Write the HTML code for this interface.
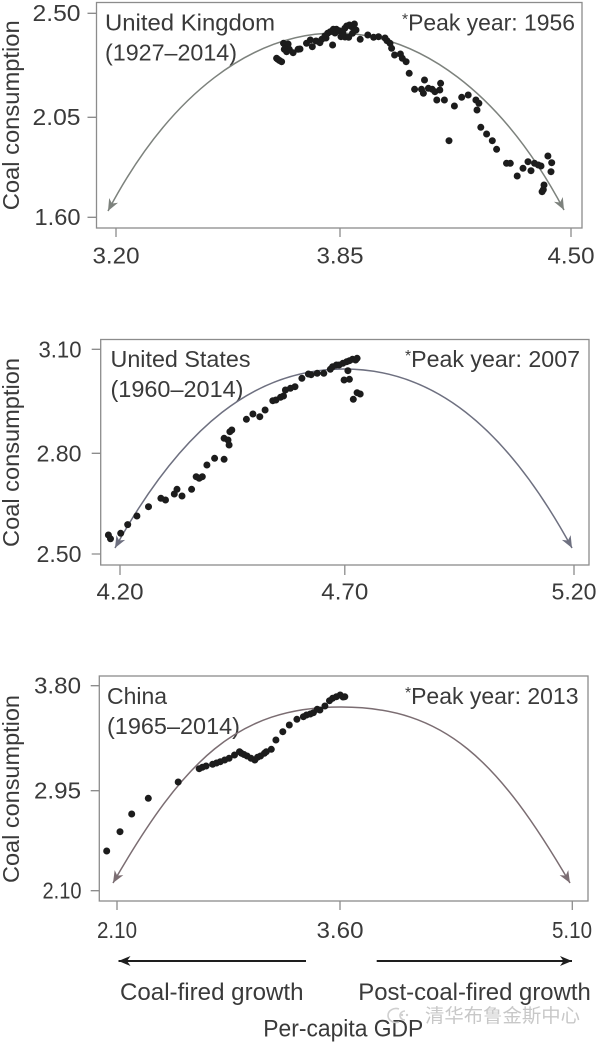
<!DOCTYPE html>
<html>
<head>
<meta charset="utf-8">
<style>
  html, body { margin: 0; padding: 0; background: #ffffff; }
  svg { display: block; }
  text { font-family: "Liberation Sans", "Noto Sans CJK SC", sans-serif; fill: #3a3a3a; }
</style>
</head>
<body>
<svg width="600" height="1044" viewBox="0 0 600 1044" xmlns="http://www.w3.org/2000/svg">
  <defs>
    <marker id="mUK" viewBox="-13 -7 14 14" refX="0" refY="0" markerWidth="14" markerHeight="14" markerUnits="userSpaceOnUse" orient="auto" overflow="visible">
      <path d="M0,0 L-12,-5 L-8.5,0 L-12,5 Z" fill="#7d827d"/>
    </marker>
    <marker id="mUS" viewBox="-13 -7 14 14" refX="0" refY="0" markerWidth="14" markerHeight="14" markerUnits="userSpaceOnUse" orient="auto" overflow="visible">
      <path d="M0,0 L-12,-5 L-8.5,0 L-12,5 Z" fill="#6e7080"/>
    </marker>
    <marker id="mCN" viewBox="-13 -7 14 14" refX="0" refY="0" markerWidth="14" markerHeight="14" markerUnits="userSpaceOnUse" orient="auto" overflow="visible">
      <path d="M0,0 L-12,-5 L-8.5,0 L-12,5 Z" fill="#7b6d72"/>
    </marker>
    <marker id="mBK" viewBox="-13 -7 14 14" refX="0" refY="0" markerWidth="14" markerHeight="14" markerUnits="userSpaceOnUse" orient="auto" overflow="visible">
      <path d="M0,0 L-12,-5 L-8.5,0 L-12,5 Z" fill="#1e1e1e"/>
    </marker>
  </defs>

  <rect x="0" y="0" width="600" height="1044" fill="#ffffff"/>

  <!-- ================= UK PANEL ================= -->
  <rect x="96.5" y="2.5" width="485.5" height="225.5" fill="none" stroke="#8c8c8c" stroke-width="1.3"/>
  <path d="M87.5 13.3H96.5 M87.5 117.3H96.5 M87.5 217.3H96.5 M116 228V237 M340 228V237 M571 228V237" stroke="#8c8c8c" stroke-width="1.3" fill="none"/>
  <g font-size="23">
    <text x="80.5" y="21" text-anchor="end" textLength="48" lengthAdjust="spacingAndGlyphs">2.50</text>
    <text x="80.5" y="125" text-anchor="end" textLength="48" lengthAdjust="spacingAndGlyphs">2.05</text>
    <text x="80.5" y="225" text-anchor="end" textLength="46" lengthAdjust="spacingAndGlyphs">1.60</text>
    <text x="116" y="263.5" text-anchor="middle" textLength="47" lengthAdjust="spacingAndGlyphs">3.20</text>
    <text x="340" y="263.5" text-anchor="middle" textLength="47" lengthAdjust="spacingAndGlyphs">3.85</text>
    <text x="571" y="263.5" text-anchor="middle" textLength="47" lengthAdjust="spacingAndGlyphs">4.50</text>
  </g>
  <text transform="translate(19,115.3) rotate(-90)" font-size="23" text-anchor="middle" textLength="190" lengthAdjust="spacingAndGlyphs">Coal consumption</text>
  <g font-size="23.5">
    <text x="105" y="30.7" textLength="170" lengthAdjust="spacingAndGlyphs">United Kingdom</text>
    <text x="105" y="60.7" textLength="132" lengthAdjust="spacingAndGlyphs">(1927–2014)</text>
    <text x="402" y="30.7" textLength="173" lengthAdjust="spacingAndGlyphs"><tspan font-size="16" dy="-6">*</tspan><tspan dy="6">Peak year: 1956</tspan></text>
  </g>
  <path d="M336,33 C418.75,32.85 501.5,91.9 564,210" fill="none" stroke="#7d827d" stroke-width="1.5" marker-end="url(#mUK)"/>
  <path d="M336,33 C253.25,33.1 170.5,92.4 108,211" fill="none" stroke="#7d827d" stroke-width="1.5" marker-end="url(#mUK)"/>
  <g fill="#1c1c1c">
    <circle cx="277.8" cy="59.3" r="3.5"/><circle cx="281.6" cy="61.7" r="3.5"/><circle cx="276.6" cy="58.3" r="3.5"/><circle cx="279.5" cy="60.5" r="3.5"/>
    <circle cx="283.5" cy="43.3" r="3.5"/><circle cx="288.1" cy="44" r="3.5"/><circle cx="284.3" cy="49.3" r="3.5"/><circle cx="289.3" cy="49.3" r="3.5"/>
    <circle cx="286.6" cy="51.7" r="3.5"/><circle cx="293.1" cy="52.7" r="3.5"/><circle cx="298.1" cy="49.3" r="3.5"/><circle cx="300" cy="49" r="3.5"/>
    <circle cx="306.5" cy="43.3" r="3.5"/><circle cx="310.3" cy="40" r="3.5"/><circle cx="312.3" cy="46.7" r="3.5"/><circle cx="316" cy="41" r="3.5"/>
    <circle cx="319.9" cy="42.7" r="3.5"/><circle cx="321.8" cy="39.3" r="3.5"/><circle cx="324.9" cy="36" r="3.5"/><circle cx="326" cy="38" r="3.5"/>
    <circle cx="327.6" cy="33.3" r="3.5"/><circle cx="330.3" cy="31.7" r="3.5"/><circle cx="333.3" cy="29.3" r="3.5"/><circle cx="335" cy="33" r="3.5"/>
    <circle cx="336.4" cy="29.3" r="3.5"/><circle cx="339.1" cy="30.7" r="3.5"/><circle cx="332.6" cy="45" r="3.5"/><circle cx="341" cy="36.7" r="3.5"/>
    <circle cx="342.9" cy="33.3" r="3.5"/><circle cx="344.8" cy="28.3" r="3.5"/><circle cx="345" cy="37" r="3.5"/><circle cx="346.7" cy="26" r="3.5"/>
    <circle cx="349.4" cy="25" r="3.5"/><circle cx="351.7" cy="26.7" r="3.5"/><circle cx="354.4" cy="24" r="3.5"/><circle cx="356" cy="30" r="3.5"/>
    <circle cx="352.5" cy="33.3" r="3.5"/><circle cx="348.7" cy="37.3" r="3.5"/><circle cx="360.2" cy="39.3" r="3.5"/><circle cx="367.8" cy="35" r="3.5"/>
    <circle cx="373.6" cy="37.3" r="3.5"/><circle cx="378.5" cy="36.7" r="3.5"/><circle cx="385" cy="38" r="3.5"/><circle cx="387" cy="40.7" r="3.5"/>
    <circle cx="390" cy="43.3" r="3.5"/><circle cx="391.6" cy="48.3" r="3.5"/><circle cx="394.6" cy="55" r="3.5"/><circle cx="400.4" cy="54" r="3.5"/>
    <circle cx="402.3" cy="58.3" r="3.5"/><circle cx="406.1" cy="61.7" r="3.5"/><circle cx="409.2" cy="73.3" r="3.5"/><circle cx="414.6" cy="89.3" r="3.5"/>
    <circle cx="421.5" cy="89.3" r="3.5"/><circle cx="424.5" cy="80" r="3.5"/><circle cx="423.4" cy="93.3" r="3.5"/><circle cx="428.4" cy="88.3" r="3.5"/>
    <circle cx="432.2" cy="89.3" r="3.5"/><circle cx="434.9" cy="91.7" r="3.5"/><circle cx="436.8" cy="100" r="3.5"/><circle cx="440.6" cy="83.3" r="3.5"/>
    <circle cx="439.8" cy="90" r="3.5"/><circle cx="444.4" cy="100" r="3.5"/><circle cx="449" cy="140.7" r="3.5"/><circle cx="454.4" cy="106" r="3.5"/>
    <circle cx="461.7" cy="97.3" r="3.5"/><circle cx="468.2" cy="95" r="3.5"/><circle cx="475.9" cy="100" r="3.5"/><circle cx="478.9" cy="103.3" r="3.5"/>
    <circle cx="477" cy="110" r="3.5"/><circle cx="480.8" cy="127.3" r="3.5"/><circle cx="486.6" cy="134" r="3.5"/><circle cx="492.3" cy="140.7" r="3.5"/>
    <circle cx="496.6" cy="149.3" r="3.5"/><circle cx="506.5" cy="163.3" r="3.5"/><circle cx="510.3" cy="163.3" r="3.5"/><circle cx="517.2" cy="176" r="3.5"/>
    <circle cx="523" cy="168.3" r="3.5"/><circle cx="528" cy="161.7" r="3.5"/><circle cx="531" cy="170.7" r="3.5"/><circle cx="534.5" cy="163.3" r="3.5"/>
    <circle cx="538.3" cy="165" r="3.5"/><circle cx="541" cy="166" r="3.5"/><circle cx="544" cy="185" r="3.5"/><circle cx="543.3" cy="189.7" r="3.5"/>
    <circle cx="542.1" cy="191.7" r="3.5"/><circle cx="547.9" cy="156" r="3.5"/><circle cx="551.7" cy="162.7" r="3.5"/><circle cx="551" cy="171.7" r="3.5"/>
  </g>

  <!-- ================= US PANEL ================= -->
  <rect x="100.7" y="339.5" width="488.3" height="225.5" fill="none" stroke="#8c8c8c" stroke-width="1.3"/>
  <path d="M91.7 349.3H100.7 M91.7 453.3H100.7 M91.7 554H100.7 M120 565V575 M344.8 565V575 M574 565V575" stroke="#8c8c8c" stroke-width="1.3" fill="none"/>
  <g font-size="23">
    <text x="81.5" y="357.3" text-anchor="end" textLength="43" lengthAdjust="spacingAndGlyphs">3.10</text>
    <text x="81.5" y="461.3" text-anchor="end" textLength="45" lengthAdjust="spacingAndGlyphs">2.80</text>
    <text x="81.5" y="562" text-anchor="end" textLength="45" lengthAdjust="spacingAndGlyphs">2.50</text>
    <text x="120" y="599.5" text-anchor="middle" textLength="47" lengthAdjust="spacingAndGlyphs">4.20</text>
    <text x="344.8" y="599.5" text-anchor="middle" textLength="47" lengthAdjust="spacingAndGlyphs">4.70</text>
    <text x="574" y="599.5" text-anchor="middle" textLength="45" lengthAdjust="spacingAndGlyphs">5.20</text>
  </g>
  <text transform="translate(19,452.5) rotate(-90)" font-size="23" text-anchor="middle" textLength="189" lengthAdjust="spacingAndGlyphs">Coal consumption</text>
  <g font-size="23.5">
    <text x="110.5" y="367" textLength="140" lengthAdjust="spacingAndGlyphs">United States</text>
    <text x="110.5" y="397" textLength="133" lengthAdjust="spacingAndGlyphs">(1960–2014)</text>
    <text x="405" y="367" textLength="175" lengthAdjust="spacingAndGlyphs"><tspan font-size="16" dy="-6">*</tspan><tspan dy="6">Peak year: 2007</tspan></text>
  </g>
  <path d="M344,369 C432,369 505,425 572,548" fill="none" stroke="#6e7080" stroke-width="1.5" marker-end="url(#mUS)"/>
  <path d="M344,369 C256,369 183,425 115,548" fill="none" stroke="#6e7080" stroke-width="1.5" marker-end="url(#mUS)"/>
  <g fill="#1c1c1c">
    <circle cx="108.4" cy="535" r="3.5"/><circle cx="110.5" cy="538.8" r="3.5"/><circle cx="120.7" cy="533.3" r="3.5"/><circle cx="127.7" cy="524.6" r="3.5"/>
    <circle cx="136.9" cy="516" r="3.5"/><circle cx="148.5" cy="506.7" r="3.5"/><circle cx="160.9" cy="498.3" r="3.5"/><circle cx="165.5" cy="500" r="3.5"/>
    <circle cx="174.3" cy="494" r="3.5"/><circle cx="177" cy="489.3" r="3.5"/><circle cx="182" cy="496" r="3.5"/><circle cx="191.6" cy="489.3" r="3.5"/>
    <circle cx="196.2" cy="476.7" r="3.5"/><circle cx="199.2" cy="478.3" r="3.5"/><circle cx="202.3" cy="476.7" r="3.5"/><circle cx="206.9" cy="465" r="3.5"/>
    <circle cx="214.6" cy="458.3" r="3.5"/><circle cx="224.1" cy="459.3" r="3.5"/><circle cx="224.1" cy="438.3" r="3.5"/><circle cx="228" cy="440" r="3.5"/>
    <circle cx="229.1" cy="445" r="3.5"/><circle cx="229.9" cy="431.7" r="3.5"/><circle cx="231.8" cy="430" r="3.5"/><circle cx="246.4" cy="419.3" r="3.5"/>
    <circle cx="252.9" cy="414" r="3.5"/><circle cx="259.8" cy="416.7" r="3.5"/><circle cx="265.1" cy="410" r="3.5"/><circle cx="272.8" cy="400.7" r="3.5"/>
    <circle cx="275.9" cy="400" r="3.5"/><circle cx="280.5" cy="397.3" r="3.5"/><circle cx="283.5" cy="396" r="3.5"/><circle cx="285.4" cy="390" r="3.5"/>
    <circle cx="290.4" cy="388.3" r="3.5"/><circle cx="295" cy="386.7" r="3.5"/><circle cx="301.9" cy="378.3" r="3.5"/><circle cx="308.4" cy="374" r="3.5"/>
    <circle cx="311.1" cy="374.7" r="3.5"/><circle cx="317.2" cy="373.3" r="3.5"/><circle cx="323.8" cy="373.3" r="3.5"/><circle cx="330.3" cy="369.3" r="3.5"/>
    <circle cx="332.6" cy="366.7" r="3.5"/><circle cx="336.4" cy="365" r="3.5"/><circle cx="339.1" cy="365" r="3.5"/><circle cx="342.9" cy="363.3" r="3.5"/>
    <circle cx="346.7" cy="361.7" r="3.5"/><circle cx="349.4" cy="360.7" r="3.5"/><circle cx="352.5" cy="359.3" r="3.5"/><circle cx="355.6" cy="360" r="3.5"/>
    <circle cx="357.1" cy="358.3" r="3.5"/><circle cx="347.9" cy="370.7" r="3.5"/><circle cx="344.1" cy="380" r="3.5"/><circle cx="349.4" cy="379.3" r="3.5"/>
    <circle cx="353.3" cy="399.3" r="3.5"/><circle cx="357.1" cy="392.7" r="3.5"/><circle cx="360.2" cy="394" r="3.5"/>
  </g>

  <!-- ================= CHINA PANEL ================= -->
  <rect x="99.3" y="676" width="488.7" height="225" fill="none" stroke="#8c8c8c" stroke-width="1.3"/>
  <path d="M90.7 685.7H99.3 M90.7 790.7H99.3 M90.7 890.7H99.3 M117 901V910 M340 901V910 M572.3 901V910" stroke="#8c8c8c" stroke-width="1.3" fill="none"/>
  <g font-size="23">
    <text x="81" y="693.5" text-anchor="end" textLength="47" lengthAdjust="spacingAndGlyphs">3.80</text>
    <text x="81" y="798.5" text-anchor="end" textLength="47" lengthAdjust="spacingAndGlyphs">2.95</text>
    <text x="81.5" y="898.5" text-anchor="end" textLength="39" lengthAdjust="spacingAndGlyphs">2.10</text>
    <text x="117" y="938" text-anchor="middle" textLength="40" lengthAdjust="spacingAndGlyphs">2.10</text>
    <text x="340" y="938" text-anchor="middle" textLength="47" lengthAdjust="spacingAndGlyphs">3.60</text>
    <text x="572" y="938" text-anchor="middle" textLength="40" lengthAdjust="spacingAndGlyphs">5.10</text>
  </g>
  <text transform="translate(19,789) rotate(-90)" font-size="23" text-anchor="middle" textLength="188" lengthAdjust="spacingAndGlyphs">Coal consumption</text>
  <g font-size="23.5">
    <text x="107" y="704" textLength="60" lengthAdjust="spacingAndGlyphs">China</text>
    <text x="107" y="734" textLength="133" lengthAdjust="spacingAndGlyphs">(1965–2014)</text>
    <text x="405" y="704" textLength="173.5" lengthAdjust="spacingAndGlyphs"><tspan font-size="16" dy="-6">*</tspan><tspan dy="6">Peak year: 2013</tspan></text>
  </g>
  <path d="M341,707 C445,707 498,760 570,883" fill="none" stroke="#7b6d72" stroke-width="1.5" marker-end="url(#mCN)"/>
  <path d="M341,707 C237,707 184,760 113,883" fill="none" stroke="#7b6d72" stroke-width="1.5" marker-end="url(#mCN)"/>
  <g fill="#1c1c1c">
    <circle cx="106.7" cy="851" r="3.5"/><circle cx="120" cy="831.7" r="3.5"/><circle cx="131.7" cy="814" r="3.5"/><circle cx="148.3" cy="798.3" r="3.5"/>
    <circle cx="178.2" cy="782" r="3.5"/><circle cx="199.2" cy="768.7" r="3.5"/><circle cx="202.3" cy="767.3" r="3.5"/><circle cx="206.1" cy="766" r="3.5"/>
    <circle cx="212.6" cy="764.3" r="3.5"/><circle cx="216.5" cy="763" r="3.5"/><circle cx="220.3" cy="761.7" r="3.5"/><circle cx="224.7" cy="760" r="3.5"/>
    <circle cx="229.1" cy="758.3" r="3.5"/><circle cx="234.5" cy="755" r="3.5"/><circle cx="239.5" cy="751.7" r="3.5"/><circle cx="241.4" cy="753.3" r="3.5"/>
    <circle cx="244" cy="754.5" r="3.5"/><circle cx="247.1" cy="756" r="3.5"/><circle cx="251" cy="758.3" r="3.5"/><circle cx="254.8" cy="760" r="3.5"/>
    <circle cx="257.5" cy="757.3" r="3.5"/><circle cx="260.5" cy="756" r="3.5"/><circle cx="264.4" cy="753.3" r="3.5"/><circle cx="266.3" cy="751.7" r="3.5"/>
    <circle cx="271.3" cy="749.3" r="3.5"/><circle cx="275.9" cy="740" r="3.5"/><circle cx="282.8" cy="731.7" r="3.5"/><circle cx="289.3" cy="725" r="3.5"/>
    <circle cx="296.9" cy="719.3" r="3.5"/><circle cx="303.4" cy="716.7" r="3.5"/><circle cx="306.5" cy="715" r="3.5"/><circle cx="310.3" cy="714" r="3.5"/>
    <circle cx="313.4" cy="712.7" r="3.5"/><circle cx="317.2" cy="709.3" r="3.5"/><circle cx="319.9" cy="710" r="3.5"/><circle cx="324.9" cy="706" r="3.5"/>
    <circle cx="329.5" cy="700.7" r="3.5"/><circle cx="332.6" cy="698.3" r="3.5"/><circle cx="336.4" cy="696.7" r="3.5"/><circle cx="340.2" cy="695" r="3.5"/>
    <circle cx="343" cy="697" r="3.5"/><circle cx="344.8" cy="696.7" r="3.5"/>
  </g>

  <!-- ================= BOTTOM ANNOTATIONS ================= -->
  <line x1="306" y1="961" x2="118.5" y2="961" stroke="#1e1e1e" stroke-width="2" marker-end="url(#mBK)"/>
  <line x1="376.7" y1="961" x2="572" y2="961" stroke="#1e1e1e" stroke-width="2" marker-end="url(#mBK)"/>
  <g font-size="24">
    <text x="120" y="1000" textLength="183.5" lengthAdjust="spacingAndGlyphs">Coal-fired growth</text>
    <text x="358.3" y="1000" textLength="232.5" lengthAdjust="spacingAndGlyphs">Post-coal-fired growth</text>
    <text x="263.3" y="1036.5" textLength="160" lengthAdjust="spacingAndGlyphs">Per-capita GDP</text>
  </g>
  <!-- watermark -->
  <g fill="none" stroke="#cfcfcf" stroke-width="1.6">
    <path d="M399,1009 A8,7 0 1 0 399,1022"/>
    <path d="M405,1011 A5,4.5 0 1 0 405,1020"/>
  </g>
  <circle cx="402" cy="1015" r="1.2" fill="#cfcfcf"/>
  <circle cx="407" cy="1015" r="1.2" fill="#cfcfcf"/>
  <text x="425" y="1022" font-size="19" textLength="155" lengthAdjust="spacingAndGlyphs" style="fill:#c8c8c8; font-family:'Liberation Sans','Noto Sans CJK SC',sans-serif;">清华布鲁金斯中心</text>
</svg>
</body>
</html>
